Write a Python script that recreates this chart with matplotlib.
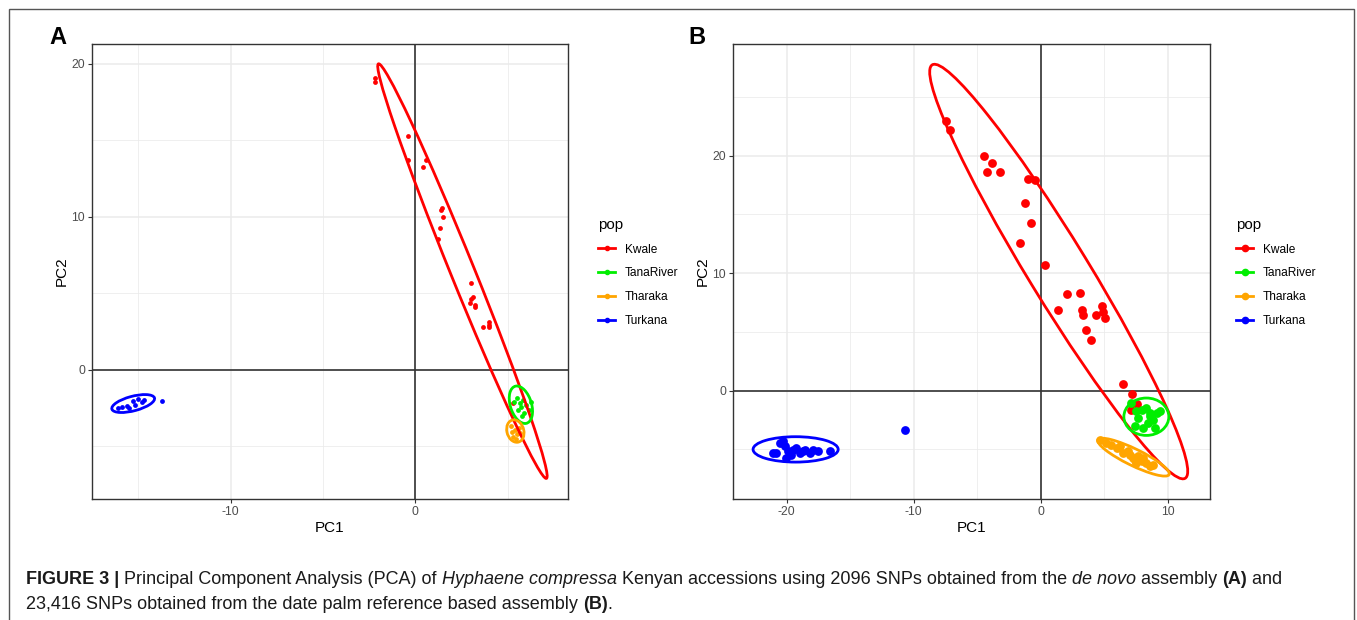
import numpy as np
import matplotlib
matplotlib.use("Agg")
import matplotlib.pyplot as plt
from matplotlib.patches import Ellipse, Rectangle
from matplotlib.lines import Line2D

plt.rcParams['font.family'] = ['Liberation Sans', 'DejaVu Sans']
plt.rcParams['axes.unicode_minus'] = False

W, H = 1357, 620
pops = ["Kwale", "TanaRiver", "Tharaka", "Turkana"]
pop_colors = ["#FF0000", "#00EE00", "#FFA500", "#0000FF"]

# === Panel A: de novo assembly (2096 SNPs) ===
a_x = {
    "Kwale": [-2.18, -2.18, -0.42, -0.42, 0.42, 0.59, 1.46, 1.36, 1.48, 1.31, 1.24,
              3.03, 3.10, 3.03, 2.93, 3.22, 3.24, 3.97, 3.99, 3.66, 3.97, 5.28],
    "TanaRiver": [5.33, 6.25, 5.71, 5.87, 5.65, 6.14, 5.50, 5.80, 5.55, 6.00, 5.75],
    "Tharaka": [5.20, 5.40, 5.50, 5.30, 5.60, 5.45, 5.65, 5.25],
    "Turkana": [-15.9, -15.6, -15.31, -15.0, -14.8, -16.1, -15.5, -14.7, -15.2, -13.71],
}
a_y = {
    "Kwale": [19.06, 18.83, 15.28, 13.72, 13.23, 13.72, 10.57, 10.46, 9.99, 9.27, 8.53,
              5.69, 4.79, 4.61, 4.39, 4.27, 4.09, 3.10, 2.92, 2.79, 2.79, -2.18],
    "TanaRiver": [-2.08, -2.08, -2.41, -2.80, -2.15, -2.60, -1.85, -1.95, -2.60, -2.30, -3.00],
    "Tharaka": [-3.70, -3.90, -4.20, -4.40, -3.80, -4.55, -4.10, -4.05],
    "Turkana": [-2.45, -2.35, -2.06, -1.93, -2.10, -2.50, -2.50, -1.95, -2.30, -2.06],
}
# ellipse: centre x, centre y, semi-major, semi-minor, angle (deg)
a_ell = {
    "Kwale": (2.545, 6.455, 14.29, 0.66, -71.46),
    "TanaRiver": (5.71, -2.28, 1.25, 0.58, -77.0),
    "Tharaka": (5.41, -4.00, 0.74, 0.46, -80.0),
    "Turkana": (-15.28, -2.20, 1.21, 0.47, 18.3),
}

# === Panel B: date palm reference (23,416 SNPs) ===
b_x = {
    "Kwale": [-7.44, -7.14, -4.45, -3.81, -4.25, -3.23, -1.02, -0.48, -1.26, -0.78, -1.60,
              0.31, 2.04, 3.06, 1.39, 3.26, 3.36, 4.79, 4.93, 4.38, 5.03, 3.57, 3.98,
              6.46, 7.19, 7.58, 7.11],
    "TanaRiver": [7.09, 7.53, 7.66, 7.93, 8.32, 8.58, 9.16, 8.84, 8.45, 8.06, 7.40,
                  8.98, 8.58, 9.37],
    "Tharaka": [4.65, 5.17, 5.56, 5.96, 6.22, 6.48, 6.87, 7.27, 7.66, 7.93, 7.53, 8.32,
                8.58, 8.84, 7.01, 8.06, 7.40],
    "Turkana": [-21.08, -20.55, -20.29, -20.16, -19.90, -20.03, -19.50, -19.24, -18.98,
                -18.58, -18.19, -17.93, -17.53, -16.61, -20.81, -19.63, -18.72, -10.71],
}
b_y = {
    "Kwale": [22.90, 22.20, 20.00, 19.33, 18.62, 18.57, 17.98, 17.95, 15.96, 14.26, 12.59,
              10.69, 8.26, 8.29, 6.82, 6.82, 6.41, 7.20, 6.71, 6.41, 6.15, 5.18, 4.33,
              0.53, -0.26, -1.14, -1.62],
    "TanaRiver": [-1.05, -1.76, -2.33, -1.62, -1.48, -1.90, -1.90, -2.47, -2.75, -3.17,
                  -3.04, -3.17, -2.19, -1.76],
    "Tharaka": [-4.22, -4.45, -4.59, -4.87, -4.73, -5.30, -5.16, -5.72, -5.58, -6.01,
                -6.15, -6.15, -6.43, -6.29, -5.44, -5.72, -5.92],
    "Turkana": [-5.30, -4.45, -4.31, -4.74, -5.16, -5.72, -5.02, -4.87, -5.30, -5.02,
                -5.30, -5.02, -5.16, -5.16, -5.30, -5.44, -5.16, -3.32],
}
b_ell = {
    "Kwale": (1.41, 10.13, 20.21, 2.4, -60.54),
    "TanaRiver": (8.31, -2.22, 1.77, 1.59, 0.0),
    "Tharaka": (7.30, -5.66, 3.17, 0.70, -28.0),
    "Turkana": (-19.30, -5.00, 3.35, 1.08, 0.0),
}

fig = plt.figure(figsize=(W / 100, H / 100), dpi=100)
fig.patch.set_facecolor("white")


def px_axes(l, t, r, b):
    return fig.add_axes([l / W, 1 - b / H, (r - l) / W, (b - t) / H])


def pca_panel(ax, xs, ys, ells, xlim, ylim, xmaj, xmin, ymaj, ymin, psize, msize):
    ax.set_xlim(xlim)
    ax.set_ylim(ylim)
    ax.set_xticks(xmaj)
    ax.set_xticks(xmin, minor=True)
    ax.set_yticks(ymaj)
    ax.set_yticks(ymin, minor=True)
    ax.grid(which="major", color="#EBEBEB", lw=1.1, zorder=0)
    ax.grid(which="minor", color="#EBEBEB", lw=0.55, zorder=0)
    ax.set_axisbelow(True)
    ax.axhline(0, color="#333333", lw=1.2, zorder=1)
    ax.axvline(0, color="#333333", lw=1.2, zorder=1)
    for p, c in zip(pops, pop_colors):
        ax.scatter(xs[p], ys[p], s=psize, color=c, lw=0, zorder=3)
        cx, cy, sa, sb, ang = ells[p]
        ax.add_patch(Ellipse((cx, cy), 2 * sa, 2 * sb, angle=ang, fill=False,
                             ec=c, lw=2.0, zorder=4))
    for s in ax.spines.values():
        s.set_color("#333333")
        s.set_linewidth(1.0)
    ax.tick_params(which="major", length=3, width=0.8, color="#333333",
                   labelsize=8.8, labelcolor="#4D4D4D", pad=2)
    ax.tick_params(which="minor", length=0)
    ax.set_xlabel("PC1", fontsize=11, labelpad=2)
    ax.set_ylabel("PC2", fontsize=11, labelpad=2)
    handles = [Line2D([], [], color=c, lw=2.0, marker="o", markersize=msize)
               for c in pop_colors]
    return handles


def add_legend(ax, handles, x0):
    ax.legend(handles, pops, title="pop", loc="upper left", frameon=False,
              bbox_to_anchor=(x0 / W, 1 - 212 / H), bbox_transform=fig.transFigure,
              borderpad=0, fontsize=8.6, title_fontsize=10.8, handlelength=1.45,
              handletextpad=0.8, labelspacing=0.98, alignment="left")


axA = px_axes(92, 44, 568, 499)
hA = pca_panel(axA, a_x, a_y, a_ell, (-17.51, 8.26), (-8.44, 21.30),
               [-10, 0], [-15, -5, 5], [0, 10, 20], [-5, 5, 15], 12, 3.0)
add_legend(axA, hA, 592)

axB = px_axes(733, 44, 1210, 499)
hB = pca_panel(axB, b_x, b_y, b_ell, (-24.23, 13.32), (-9.22, 29.49),
               [-20, -10, 0, 10], [-15, -5, 5], [0, 10, 20], [-5, 5, 15, 25], 40, 4.5)
add_legend(axB, hB, 1230)

fig.text(58 / W, 1 - 37 / H, "A", fontsize=17, fontweight="bold", ha="center", va="center")
fig.text(697 / W, 1 - 37 / H, "B", fontsize=17, fontweight="bold", ha="center", va="center")

# frame round the whole figure
fig.add_artist(Rectangle((9 / W, -0.05), 1345 / W, 1.05 - 9 / H, transform=fig.transFigure,
                         fill=False, ec="#555555", lw=1.0))

# === Caption with mixed styles ===
renderer = fig.canvas.get_renderer()
cap_size = 12.95


def run_width(txt, **kw):
    t1 = fig.text(0, 0, "|" + txt + "|", fontsize=cap_size, **kw)
    t2 = fig.text(0, 0, "||", fontsize=cap_size, **kw)
    w = t1.get_window_extent(renderer).width - t2.get_window_extent(renderer).width
    t1.remove()
    t2.remove()
    return w


def caption_line(runs, x0, ybase):
    x = x0
    for txt, kw in runs:
        fig.text(x / W, 1 - ybase / H, txt, fontsize=cap_size, va="baseline",
                 color="#1a1a1a", **kw)
        x += run_width(txt, **kw)


R, B_, I = {}, {"fontweight": "bold"}, {"fontstyle": "italic"}
line1 = [("FIGURE 3 |", B_), (" Principal Component Analysis (PCA) of ", R),
         ("Hyphaene compressa", I),
         (" Kenyan accessions using 2096 SNPs obtained from the ", R),
         ("de novo", I), (" assembly ", R), ("(A)", B_), (" and", R)]
line2 = [("23,416 SNPs obtained from the date palm reference based assembly ", R),
         ("(B)", B_), (".", R)]
caption_line(line1, 26, 584)
caption_line(line2, 26, 609)

fig.savefig("out.png", dpi=100, facecolor="white")
